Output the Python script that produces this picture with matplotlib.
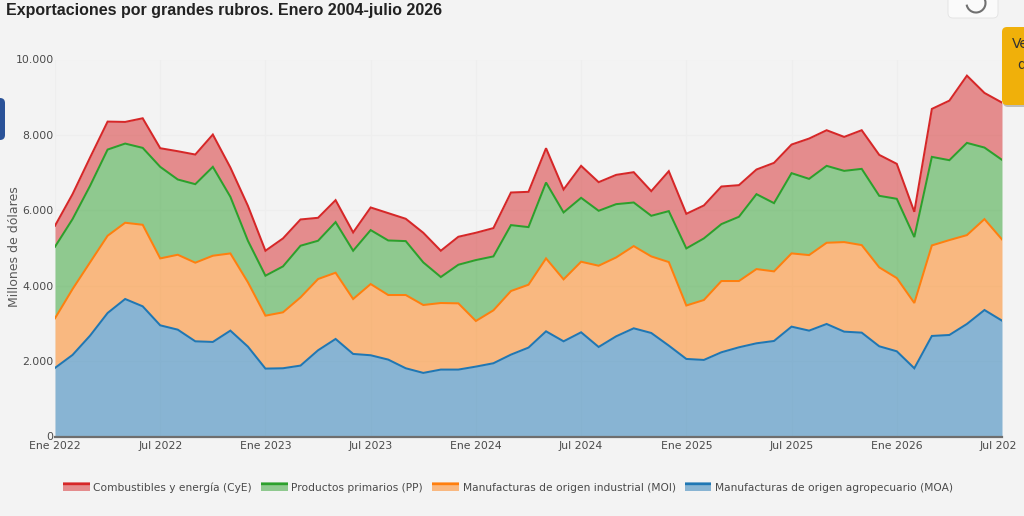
import numpy as np
import matplotlib
matplotlib.use("Agg")
import matplotlib.pyplot as plt
from matplotlib.patches import FancyBboxPatch, Rectangle, Arc
from matplotlib.lines import Line2D
from matplotlib.legend_handler import HandlerBase
from matplotlib.transforms import IdentityTransform, Bbox
from matplotlib.ticker import FuncFormatter, FixedLocator

# cumulative tops of the stacked bands, millions of dollars, Jan 2022 - Jul 2026
moa = [1819,2163,2675,3276,3647,3453,2949,2834,2525,2508,2808,2384,
       1801,1810,1881,2287,2587,2190,2155,2040,1810,1687,1775,1775,
       1854,1943,2172,2358,2790,2525,2764,2375,2658,2870,2746,2411,
       2057,2031,2234,2366,2472,2534,2914,2808,2985,2781,2755,2393,
       2260,1810,2667,2693,2985,3355,3073]
moi = [3135,3910,4620,5325,5670,5616,4724,4821,4610,4795,4856,4090,
       3205,3294,3690,4177,4344,3647,4044,3753,3753,3488,3541,3532,
       3064,3347,3859,4026,4724,4168,4636,4530,4750,5051,4777,4627,
       3475,3620,4124,4124,4441,4380,4857,4812,5139,5157,5077,4486,
       4203,3541,5068,5210,5342,5766,5227]
pp = [5033,5766,6649,7611,7770,7656,7152,6817,6693,7152,6358,5192,
      4265,4512,5060,5192,5687,4927,5475,5200,5183,4618,4230,4556,
      4680,4777,5607,5554,6737,5943,6331,5987,6163,6207,5854,5978,
      4989,5254,5634,5828,6428,6190,6985,6834,7179,7046,7099,6384,
      6305,5289,7417,7329,7788,7664,7338]
cye = [5590,6428,7400,8353,8344,8441,7647,7567,7479,8009,7135,6119,
       4927,5254,5757,5801,6269,5413,6075,5925,5775,5404,4927,5298,
       5404,5528,6472,6490,7647,6552,7179,6746,6940,7011,6508,7038,
       5907,6128,6631,6667,7082,7258,7744,7903,8124,7947,8124,7470,
       7232,5960,8689,8909,9572,9113,8857]
names = ["Combustibles y energía (CyE)", "Productos primarios (PP)",
         "Manufacturas de origen industrial (MOI)", "Manufacturas de origen agropecuario (MOA)"]
colors = ["#d62728", "#2ca02c", "#ff7f0e", "#1f77b4"]
tick_labels = ["Ene 2022","Jul 2022","Ene 2023","Jul 2023","Ene 2024","Jul 2024",
               "Ene 2025","Jul 2025","Ene 2026","Jul 2026"]
title = "Exportaciones por grandes rubros. Enero 2004-julio 2026"

W, H = 1024, 516
BG = "#f3f3f3"
fig = plt.figure(figsize=(W/100, H/100), dpi=100, facecolor=BG)
ax = fig.add_axes([55/W, 1-436.5/H, (1002-55)/W, (436.5-59.5)/H], facecolor=BG)
x = np.arange(len(moa))
bands = [cye, pp, moi, moa]
lowers = [pp, moi, moa, [0]*len(moa)]
for top, low, c, n in zip(bands, lowers, colors, names):
    ax.fill_between(x, low, top, color=c, alpha=0.5, lw=0, zorder=2)
for top, c, n in zip(reversed(bands), reversed(colors), reversed(names)):
    ax.plot(x, top, color=c, lw=1.45, zorder=3, solid_joinstyle="miter", label=n)

ax.set_xlim(0, len(moa)-1)
ax.set_ylim(0, 10000)
ax.xaxis.set_major_locator(FixedLocator(np.arange(0, len(moa), 6)))
ax.set_xticklabels(tick_labels)
ax.set_yticks(range(0, 10001, 2000))
ax.yaxis.set_major_formatter(FuncFormatter(lambda v, _: f"{int(v):,}".replace(",", ".")))
ax.grid(True, color="#eeeeee", lw=0.8, zorder=1)
ax.set_axisbelow(True)
for s in ["top", "right", "left"]:
    ax.spines[s].set_visible(False)
ax.spines["bottom"].set_color("#6e6e6e")
ax.spines["bottom"].set_linewidth(1.6)
ax.tick_params(axis="both", length=0, labelsize=7.8, labelcolor="#4a4a4a")
ax.tick_params(axis="x", pad=3)
ax.tick_params(axis="y", pad=1)
fig.canvas.draw()
for lab in ax.get_xticklabels():
    lab.set_clip_box(Bbox([[0, 0], [1016, H]]))
    lab.set_clip_on(True)

fig.text(15/W, 1-247/H, "Millones de dólares", rotation=90, ha="center", va="center",
         fontsize=9, color="#5a5a5a")
fig.text(6/W, 1-11/H, title, ha="left", va="center", fontsize=11.55, fontweight="bold",
         family="Liberation Sans", color="#222222")


class BandHandler(HandlerBase):
    def create_artists(self, legend, orig, xd, yd, w, h, fs, trans):
        c = orig.get_color()
        r = Rectangle((xd, yd), w, h, facecolor=c, alpha=0.5, lw=0, transform=trans)
        l = Line2D([xd, xd+w], [yd+h*0.78]*2, color=c, lw=1.7, solid_capstyle="butt",
                   transform=trans)
        return [r, l]


handles = {l.get_label(): l for l in ax.get_lines()}
leg = fig.legend([handles[n] for n in names], names, loc="center", ncols=4,
                 bbox_to_anchor=(508/W, 1-488/H), frameon=False, fontsize=7.7,
                 labelcolor="#4a4a4a", handlelength=2.5, handleheight=0.85,
                 handletextpad=0.35, columnspacing=0.85, borderpad=0,
                 handler_map={Line2D: BandHandler()})

# page widgets that overlap the chart
idt = IdentityTransform()
def box(x0, y0, x1, y1, fc, rad=5, ec="none", z=10):
    p = FancyBboxPatch((x0, H-y1), x1-x0, y1-y0, boxstyle=f"round,pad=0,rounding_size={rad}",
                       fc=fc, ec=ec, lw=0.6, transform=idt, zorder=z)
    fig.add_artist(p)
box(1003, 30, 1040, 107, "#bdbdbd", z=9)
box(1002, 27, 1040, 105, "#f0b00a")
box(948, -10, 998, 18, "#fafafa", ec="#e2e2e2")
box(-10, 98, 5, 140, "#2a5298")
fig.text(1012/W, 1-44/H, "Ve", fontsize=10, color="#333333", ha="left", va="center", zorder=11, clip_on=False)
fig.text(1017/W, 1-65/H, "d", fontsize=10, color="#333333", ha="left", va="center", zorder=11, clip_on=False)
fig.add_artist(Arc((976, H-3), 19, 19, theta1=190, theta2=490, color="#707070", lw=1.5,
                   transform=idt, zorder=11))

fig.savefig("out.png", dpi=100, facecolor=BG)
